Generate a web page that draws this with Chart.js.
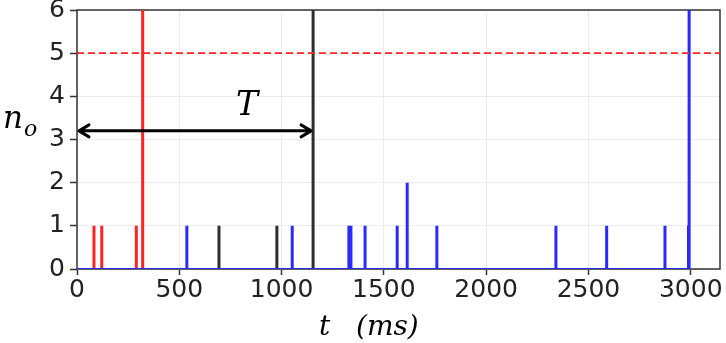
<!DOCTYPE html>
<html>
<head>
<meta charset="utf-8">
<script src="https://cdn.jsdelivr.net/npm/chart.js@4"></script>
<style>
  html, body { margin: 0; padding: 0; background: #fff; }
  canvas { display: block; }
</style>
</head>
<body>
<canvas id="chart" width="726" height="343"></canvas>
<script>
// spike times (ms) and heights n_o, per colour
const redTimes = [83, 121, 290, 321];
const redCounts = [1, 1, 1, 6];
const blackTimes = [694, 977, 1154];
const blackCounts = [1, 1, 6];
const blueTimes = [537, 1052, 1329, 1339, 1408, 1565, 1614, 1759, 2341, 2589, 2874, 2989, 2992];
const blueCounts = [1, 1, 1, 1, 1, 1, 2, 1, 1, 1, 1, 1, 6];
const threshold = 5;
const xTicks = [0, 500, 1000, 1500, 2000, 2500, 3000];
const yTicks = [0, 1, 2, 3, 4, 5, 6];
const xMax = 3143;
const arrowFrom = 0, arrowTo = 1154, arrowLevel = 3.2;

// turn event lists into a spike train: flat at 0, jump up and back at each event
function spikes(times, counts) {
  const pts = [{ x: 0, y: 0 }];
  for (let i = 0; i < times.length; i++) {
    pts.push({ x: times[i], y: 0 });
    pts.push({ x: times[i], y: counts[i] });
    pts.push({ x: times[i], y: 0 });
  }
  return pts;
}

const RED = '#ff2424', BLUE = '#2a2aff', BLACK = '#2e2e2e';
const TICK_FONT = { family: 'DejaVu Sans', size: 25 };

const extras = {
  id: 'extras',
  beforeDatasetsDraw(chart) {
    const { ctx, chartArea: a } = chart;
    ctx.save();
    ctx.strokeStyle = '#333';
    ctx.lineWidth = 1.5;
    ctx.strokeRect(a.left, a.top, a.right - a.left, a.bottom - a.top);
    ctx.restore();
  },
  afterDatasetsDraw(chart) {
    const { ctx, scales: { x, y } } = chart;
    const x0 = x.getPixelForValue(arrowFrom), x1 = x.getPixelForValue(arrowTo);
    const yy = y.getPixelForValue(arrowLevel);
    ctx.save();
    ctx.strokeStyle = '#000';
    ctx.lineWidth = 3;
    ctx.lineCap = 'round';
    ctx.lineJoin = 'round';
    ctx.beginPath();
    ctx.moveTo(x0 + 2, yy); ctx.lineTo(x1 - 2, yy);
    ctx.moveTo(x0 + 12, yy - 6); ctx.lineTo(x0 + 2, yy); ctx.lineTo(x0 + 12, yy + 6);
    ctx.moveTo(x1 - 12, yy - 6); ctx.lineTo(x1 - 2, yy); ctx.lineTo(x1 - 12, yy + 6);
    ctx.stroke();

    ctx.fillStyle = '#000';
    ctx.textBaseline = 'alphabetic';
    ctx.font = 'italic 33px "DejaVu Serif"';
    ctx.textAlign = 'center';
    ctx.fillText('T', (x0 + x1) / 2 + 52, yy - 16);

    ctx.textAlign = 'left';
    ctx.font = 'italic 31px "DejaVu Serif"';
    ctx.fillText('n', 3, 128);
    ctx.font = 'italic 22px "DejaVu Serif"';
    ctx.fillText('o', 24, 136);

    ctx.font = 'italic 28px "DejaVu Serif"';
    ctx.fillText('t', 319, 335);
    ctx.fillText('(ms)', 356, 335);
    ctx.restore();
  }
};

// baseline drawn thinner than the spikes
const flatThin = { borderWidth: c => (c.p0.parsed.y === 0 && c.p1.parsed.y === 0 ? 2 : 3) };

new Chart(document.getElementById('chart'), {
  type: 'line',
  data: {
    // Chart.js paints the first dataset on top
    datasets: [
      { data: [{ x: 0, y: threshold }, { x: xMax, y: threshold }], borderColor: RED, borderWidth: 1.8, borderDash: [7, 4] },
      { data: spikes(blueTimes, blueCounts), borderColor: BLUE, borderWidth: 3, segment: flatThin },
      { data: spikes(blackTimes, blackCounts), borderColor: BLACK, borderWidth: 3, segment: flatThin },
      { data: spikes(redTimes, redCounts), borderColor: RED, borderWidth: 3, segment: flatThin }
    ].map(d => Object.assign({ pointRadius: 0, tension: 0, fill: false, borderJoinStyle: 'bevel' }, d))
  },
  options: {
    responsive: false,
    animation: false,
    maintainAspectRatio: false,
    layout: { padding: { left: 0, top: 10, right: 6, bottom: 0 } },
    plugins: { legend: { display: false }, tooltip: { enabled: false } },
    scales: {
      x: {
        type: 'linear', min: 0, max: xMax,
        afterFit(s) { s.height = 74; s.paddingLeft = 0; s.paddingRight = 0; },
        afterBuildTicks(s) { s.ticks = xTicks.map(v => ({ value: v })); },
        grid: { color: '#ececec', lineWidth: 1, tickLength: 6, tickColor: '#333', tickWidth: 1.5 },
        border: { display: false },
        ticks: { font: TICK_FONT, color: '#222', padding: 0, maxRotation: 0, callback: v => String(v) }
      },
      y: {
        min: 0, max: 6,
        afterFit(s) { s.width = 77; s.paddingTop = 0; s.paddingBottom = 0; },
        afterBuildTicks(s) { s.ticks = yTicks.map(v => ({ value: v })); },
        grid: { color: '#ececec', lineWidth: 1, tickLength: 7, tickColor: '#333', tickWidth: 1.5 },
        border: { display: false },
        ticks: { font: TICK_FONT, color: '#222', padding: 5, callback: v => String(v) }
      }
    }
  },
  plugins: [extras]
});
</script>
</body>
</html>
